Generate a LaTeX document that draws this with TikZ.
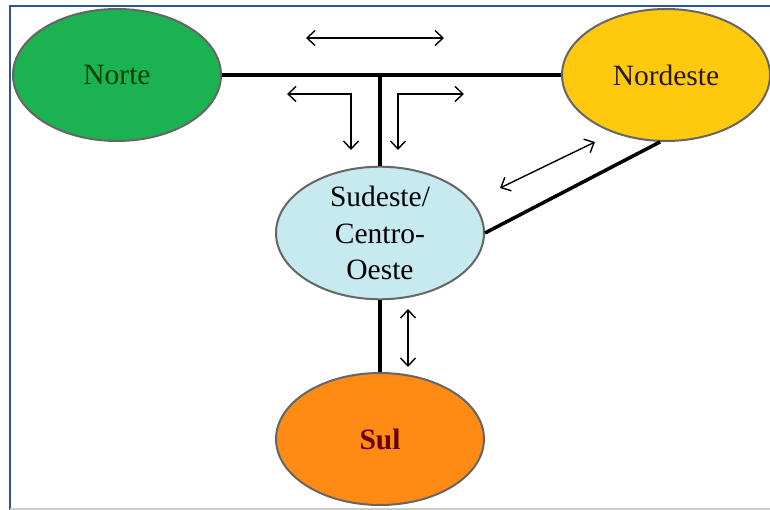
\documentclass[tikz,border=0pt]{standalone}
\usepackage{fontspec}
\setmainfont{Liberation Serif}
\usetikzlibrary{shapes.geometric,arrows.meta}

\definecolor{verde}{HTML}{1BB351}
\definecolor{amarelo}{HTML}{FFC90E}
\definecolor{azulclaro}{HTML}{C6EAF0}
\definecolor{laranja}{HTML}{FF8A14}
\definecolor{moldura}{HTML}{2E5597}

\tikzset{
  regiao/.style={ellipse,draw=gray!80!black,line width=2pt,
    minimum width=208pt,minimum height=132pt,inner sep=0pt,
    align=center,font=\fontsize{29.5}{36.5}\selectfont},
  ligacao/.style={line width=3.5pt},
  fluxo/.style={line width=1.4pt,{Straight Barb[length=8pt,width=15pt]}-{Straight Barb[length=8pt,width=15pt]}}
}

\begin{document}
\begin{tikzpicture}[x=1pt,y=-1pt]
\useasboundingbox (0,0) rectangle (770,510);

% moldura
\draw[moldura,line width=2.5pt] (10,510) -- (10,6) -- (770,6);
\draw[gray!40,line width=2pt] (10,509) -- (770,509);

% regioes
\node[regiao,fill=verde,text=green!25!black] (norte) at (117,75) {Norte};
\node[regiao,fill=amarelo,text=black!80!brown] (nordeste) at (666,75) {Nordeste};
\node[regiao,fill=azulclaro] (sudeste) at (380,233) {Sudeste/\\Centro-\\Oeste};
\node[regiao,fill=laranja,text=red!40!black,font=\fontsize{29.5}{34}\selectfont\bfseries] (sul) at (380,439) {Sul};

% linhas de ligacao
\coordinate (tee) at (sudeste.north |- norte.east);
\draw[ligacao] (norte.east) -- (nordeste.west);
\draw[ligacao] (tee) -- (sudeste.north);
\draw[ligacao] (sudeste.east) -- (nordeste.265);
\draw[ligacao] (sudeste.south) -- (sul.north);

% setas de fluxo
\coordinate (topo-e) at (306,38);
\coordinate (topo-d) at (444,38);
\draw[fluxo] (topo-e) -- (topo-d);

\coordinate (esq-a) at (287,94);
\coordinate (esq-b) at (351,150);
\draw[fluxo] (esq-a) -| (esq-b);

\coordinate (dir-a) at (464,94);
\coordinate (dir-b) at (398,150);
\draw[fluxo] (dir-a) -| (dir-b);

\coordinate (diag-a) at (500,188);
\coordinate (diag-b) at (595,142);
\draw[fluxo] (diag-a) -- (diag-b);

\coordinate (sul-a) at (408,309);
\coordinate (sul-b) at (408,367);
\draw[fluxo] (sul-a) -- (sul-b);
\end{tikzpicture}
\end{document}
